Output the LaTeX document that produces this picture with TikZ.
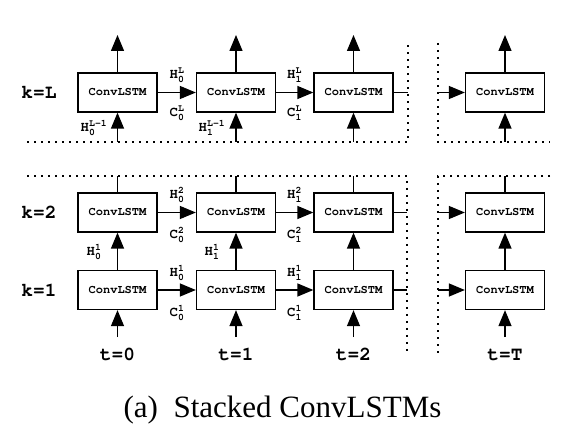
\documentclass[tikz,border=0pt]{standalone}
\usepackage{amsmath}
\usepackage{fontspec}
\setmainfont{Liberation Serif}
\usetikzlibrary{arrows.meta,positioning}
\newcommand{\cour}{\fontencoding{T1}\fontfamily{pcr}\fontseries{b}\selectfont}
\tikzset{
  cell/.style={draw,line width=1.3pt,minimum width=79pt,minimum height=39pt,inner sep=0pt,font=\cour\fontsize{12}{12}\selectfont},
  flow/.style={line width=1.3pt,-{Triangle[length=16pt,width=13pt]}},
  link/.style={line width=1.3pt},
  sep/.style={line width=1.6pt,dash pattern=on 1.6pt off 5.4pt},
  lab/.style={font=\cour\fontsize{14}{14}\selectfont,inner sep=1pt},
  axis/.style={font=\cour\fontsize{19.5}{19.5}\selectfont,inner sep=1pt}
}
\newcommand{\hc}[3]{$\text{#1}^{\text{#3}}_{\text{#2}}$}

\begin{document}
\begin{tikzpicture}[x=1pt,y=-1pt]
	\useasboundingbox (0,0) rectangle (572,443);
	\node[cell] (L0) at (117.5,92.5) {ConvLSTM};
	\node[cell] (L1) at (236,92.5) {ConvLSTM};
	\node[cell] (L2) at (353.5,92.5) {ConvLSTM};
	\node[cell] (LT) at (505,92.5) {ConvLSTM};
	\node[cell] (B0) at (117.5,212.5) {ConvLSTM};
	\node[cell] (B1) at (236,212.5) {ConvLSTM};
	\node[cell] (B2) at (353.5,212.5) {ConvLSTM};
	\node[cell] (BT) at (505,212.5) {ConvLSTM};
	\node[cell] (A0) at (117.5,290) {ConvLSTM};
	\node[cell] (A1) at (236,290) {ConvLSTM};
	\node[cell] (A2) at (353.5,290) {ConvLSTM};
	\node[cell] (AT) at (505,290) {ConvLSTM};

	\node[axis] (kL) at (39,92.5) {k=L};
	\node[axis] (k2) at (39,212.5) {k=2};
	\node[axis] (k1) at (39,290) {k=1};
	\node[axis] (t0) at (117.5,355) {t=0};
	\node[axis] (t1) at (236,355) {t=1};
	\node[axis] (t2) at (353.5,355) {t=2};
	\node[axis] (tT) at (505,355) {t=T};

	\coordinate (oL0) at (117.5,35);
	\coordinate (oL1) at (236,35);
	\coordinate (oL2) at (353.5,35);
	\coordinate (oLT) at (505,35);
	\coordinate (iL0) at (117.5,142);
	\coordinate (iL1) at (236,142);
	\coordinate (iL2) at (353.5,142);
	\coordinate (iLT) at (505,142);
	\coordinate (oB0) at (117.5,176);
	\coordinate (oB1) at (236,176);
	\coordinate (oB2) at (353.5,176);
	\coordinate (oBT) at (505,176);
	\coordinate (iA0) at (117.5,337);
	\coordinate (iA1) at (236,337);
	\coordinate (iA2) at (353.5,337);
	\coordinate (iAT) at (505,337);
	\coordinate (eL) at (408,92.5);
	\coordinate (eB) at (407,212.5);
	\coordinate (eA) at (407,290);
	\coordinate (sL) at (438,92.5);
	\coordinate (sB) at (438,212.5);
	\coordinate (sA) at (438,290);

	\draw[flow] (L0) -- (oL0);
	\draw[flow] (L1) -- (oL1);
	\draw[flow] (L2) -- (oL2);
	\draw[flow] (LT) -- (oLT);
	\draw[flow] (iL0) -- (L0);
	\draw[flow] (iL1) -- (L1);
	\draw[flow] (iL2) -- (L2);
	\draw[flow] (iLT) -- (LT);
	\draw[link] (B0) -- (oB0);
	\draw[link] (B1) -- (oB1);
	\draw[link] (B2) -- (oB2);
	\draw[link] (BT) -- (oBT);
	\draw[flow] (A0) -- (B0);
	\draw[flow] (A1) -- (B1);
	\draw[flow] (A2) -- (B2);
	\draw[flow] (AT) -- (BT);
	\draw[flow] (iA0) -- (A0);
	\draw[flow] (iA1) -- (A1);
	\draw[flow] (iA2) -- (A2);
	\draw[flow] (iAT) -- (AT);

	\draw[flow] (L0) -- (L1);
	\draw[flow] (L1) -- (L2);
	\draw[link] (L2) -- (eL);
	\draw[flow] (sL) -- (LT);
	\draw[flow] (B0) -- (B1);
	\draw[flow] (B1) -- (B2);
	\draw[link] (B2) -- (eB);
	\draw[flow] (sB) -- (BT);
	\draw[flow] (A0) -- (A1);
	\draw[flow] (A1) -- (A2);
	\draw[link] (A2) -- (eA);
	\draw[flow] (sA) -- (AT);

	\node[lab] (hL0) at (177,75) {\hc{H}{0}{L}};
	\node[lab] (cL0) at (177,113) {\hc{C}{0}{L}};
	\node[lab] (hL1) at (294.5,75) {\hc{H}{1}{L}};
	\node[lab] (cL1) at (294.5,113) {\hc{C}{1}{L}};
	\node[lab] (uL0) at (94,128) {\hc{H}{0}{L-1}};
	\node[lab] (uL1) at (212,128) {\hc{H}{1}{L-1}};
	\node[lab] (hB0) at (177,195) {\hc{H}{0}{2}};
	\node[lab] (cB0) at (177,235) {\hc{C}{0}{2}};
	\node[lab] (hB1) at (294.5,195) {\hc{H}{1}{2}};
	\node[lab] (cB1) at (294.5,235) {\hc{C}{1}{2}};
	\node[lab] (uA0) at (94,252) {\hc{H}{0}{1}};
	\node[lab] (uA1) at (212,252) {\hc{H}{1}{1}};
	\node[lab] (hA0) at (177,273) {\hc{H}{0}{1}};
	\node[lab] (cA0) at (177,313) {\hc{C}{0}{1}};
	\node[lab] (hA1) at (294.5,273) {\hc{H}{1}{1}};
	\node[lab] (cA1) at (294.5,313) {\hc{C}{1}{1}};

	\draw[sep] (27,142) -- (408,142) -- (408,43);
	\draw[sep] (438,43) -- (438,142) -- (550,142);
	\draw[sep] (27,176) -- (407,176) -- (407,353);
	\draw[sep] (550,176) -- (438,176) -- (438,353);

	\node[font=\fontsize{31}{31}\selectfont] (cap) at (282.5,410) {(a)\hspace{0.5em}Stacked ConvLSTMs};
\end{tikzpicture}
\end{document}
